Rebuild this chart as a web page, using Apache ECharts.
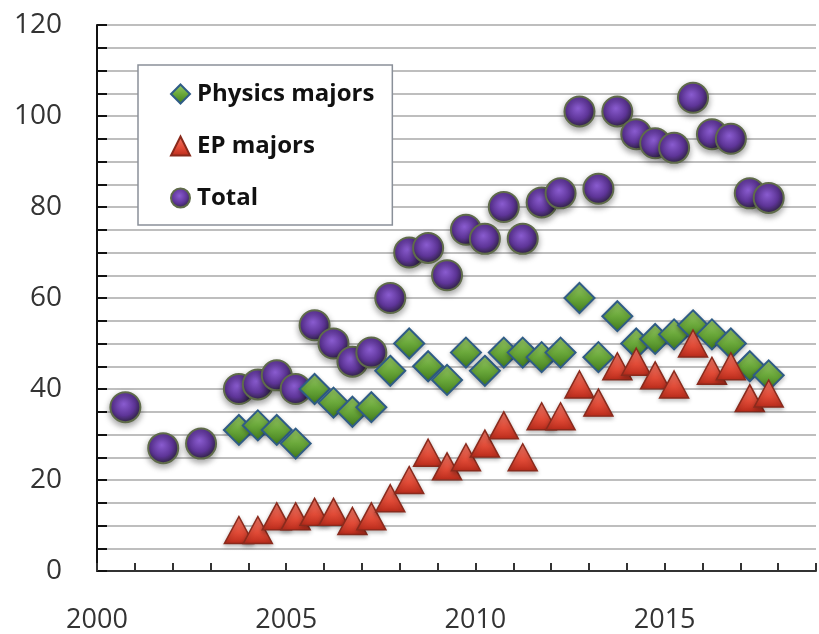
<!DOCTYPE html>
<html>
<head>
<meta charset="utf-8">
<script src="https://cdn.jsdelivr.net/npm/echarts@6/dist/echarts.min.js"></script>
<style>
html,body{margin:0;padding:0;background:#fff;}
#chart{width:819px;height:634px;}
</style>
</head>
<body>
<div id="chart"></div>
<script>
// Data (semester positions along the year axis)
var semesters = [2000.75, 2001.75, 2002.75, 2003.75, 2004.25, 2004.75, 2005.25, 2005.75, 2006.25, 2006.75,
  2007.25, 2007.75, 2008.25, 2008.75, 2009.25, 2009.75, 2010.25, 2010.75, 2011.25, 2011.75,
  2012.25, 2012.75, 2013.25, 2013.75, 2014.25, 2014.75, 2015.25, 2015.75, 2016.25, 2016.75,
  2017.25, 2017.75];
var totalValues = [36, 27, 28, 40, 41, 43, 40, 54, 50, 46, 48, 60, 70, 71, 65, 75, 73, 80, 73, 81,
  83, 101, 84, 101, 96, 94, 93, 104, 96, 95, 83, 82];
var majorSemesters = [2003.75, 2004.25, 2004.75, 2005.25, 2005.75, 2006.25, 2006.75,
  2007.25, 2007.75, 2008.25, 2008.75, 2009.25, 2009.75, 2010.25, 2010.75, 2011.25, 2011.75,
  2012.25, 2012.75, 2013.25, 2013.75, 2014.25, 2014.75, 2015.25, 2015.75, 2016.25, 2016.75,
  2017.25, 2017.75];
var physicsValues = [31, 32, 31, 28, 40, 37, 35, 36, 44, 50, 45, 42, 48, 44, 48, 48, 47, 48, 60, 47,
  56, 50, 51, 52, 54, 52, 50, 45, 43];
var epValues = [9, 9, 12, 12, 13, 13, 11, 12, 16, 20, 26, 23, 25, 28, 32, 25, 34, 34, 41, 37,
  45, 46, 43, 41, 50, 44, 45, 38, 39];
var seriesNames = ['Physics majors', 'EP majors', 'Total'];
var yTickLabels = [0, 20, 40, 60, 80, 100, 120];
var xTickLabels = [2000, 2005, 2010, 2015];

function pairs(xs, ys) { return xs.map(function (x, i) { return [x, ys[i]]; }); }

var chart = echarts.init(document.getElementById('chart'), null, {renderer: 'canvas'});
var FONT = '"Open Sans", Lato, sans-serif';

var option = {
  animation: false,
  backgroundColor: '#ffffff',
  grid: {left: 97, top: 25, right: 0, bottom: 62, containLabel: false},
  legend: {
    orient: 'vertical',
    left: 138, top: 65,
    padding: [17, 18, 15, 32],
    itemGap: 28,
    itemWidth: 19, itemHeight: 19,
    borderColor: '#8a9099', borderWidth: 1.5,
    backgroundColor: '#ffffff',
    data: seriesNames,
    textStyle: {fontFamily: FONT, fontWeight: 'bold', fontSize: 24, color: '#111', padding: [0, 0, 0, 2]}
  },
  xAxis: {
    type: 'value', min: 2000, max: 2019, interval: 1,
    axisLine: {show: true, onZero: false, lineStyle: {color: '#333', width: 2}},
    axisTick: {show: true, inside: true, length: 8, lineStyle: {color: '#333', width: 2}},
    splitLine: {show: false},
    axisLabel: {
      margin: 36, fontFamily: FONT, fontSize: 27, color: '#333',
      formatter: function (v) { return xTickLabels.indexOf(v) >= 0 ? String(v) : ''; }
    }
  },
  yAxis: {
    type: 'value', min: 0, max: 120, interval: 5,
    axisLine: {show: true, lineStyle: {color: '#111', width: 2}},
    axisTick: {show: true, inside: true, length: 10, lineStyle: {color: '#111', width: 2}},
    splitLine: {show: true, lineStyle: {color: '#a9a9a9', width: 1.5}},
    axisLabel: {
      margin: 35, fontFamily: FONT, fontSize: 28, color: '#333',
      formatter: function (v) { return yTickLabels.indexOf(v) >= 0 ? String(v) : ''; }
    }
  },
  series: [
    {
      name: 'Total', type: 'scatter', z: 2,
      data: pairs(semesters, totalValues),
      symbol: 'circle', symbolSize: 30,
      itemStyle: {
        color: {type: 'radial', x: 0.45, y: 0.4, r: 0.6,
          colorStops: [{offset: 0, color: '#8a5cd0'}, {offset: 0.6, color: '#5e3598'}, {offset: 1, color: '#2e2440'}]},
        borderColor: '#5f6b4a', borderWidth: 2,
        shadowBlur: 6, shadowColor: 'rgba(0,0,0,0.35)', shadowOffsetY: 3, opacity: 1
      }
    },
    {
      name: 'Physics majors', type: 'scatter', z: 3,
      data: pairs(majorSemesters, physicsValues),
      symbol: 'diamond', symbolSize: [30, 30],
      itemStyle: {
        color: {type: 'linear', x: 0, y: 0, x2: 0, y2: 1,
          colorStops: [{offset: 0, color: '#9ccc6c'}, {offset: 0.5, color: '#6aa83a'}, {offset: 1, color: '#3f7a1c'}]},
        borderColor: '#2f5c86', borderWidth: 2,
        shadowBlur: 4, shadowColor: 'rgba(0,0,0,0.25)', shadowOffsetY: 2, opacity: 1
      }
    },
    {
      name: 'EP majors', type: 'scatter', z: 4,
      data: pairs(majorSemesters, epValues),
      symbol: 'triangle', symbolSize: [29, 27],
      itemStyle: {
        color: {type: 'linear', x: 0, y: 0, x2: 0, y2: 1,
          colorStops: [{offset: 0, color: '#f47a68'}, {offset: 0.6, color: '#e04a36'}, {offset: 1, color: '#b82a1a'}]},
        borderColor: '#8a2a1c', borderWidth: 1.5,
        shadowBlur: 4, shadowColor: 'rgba(0,0,0,0.25)', shadowOffsetY: 2, opacity: 1
      }
    }
  ]
};
chart.setOption(option);
</script>
</body>
</html>
